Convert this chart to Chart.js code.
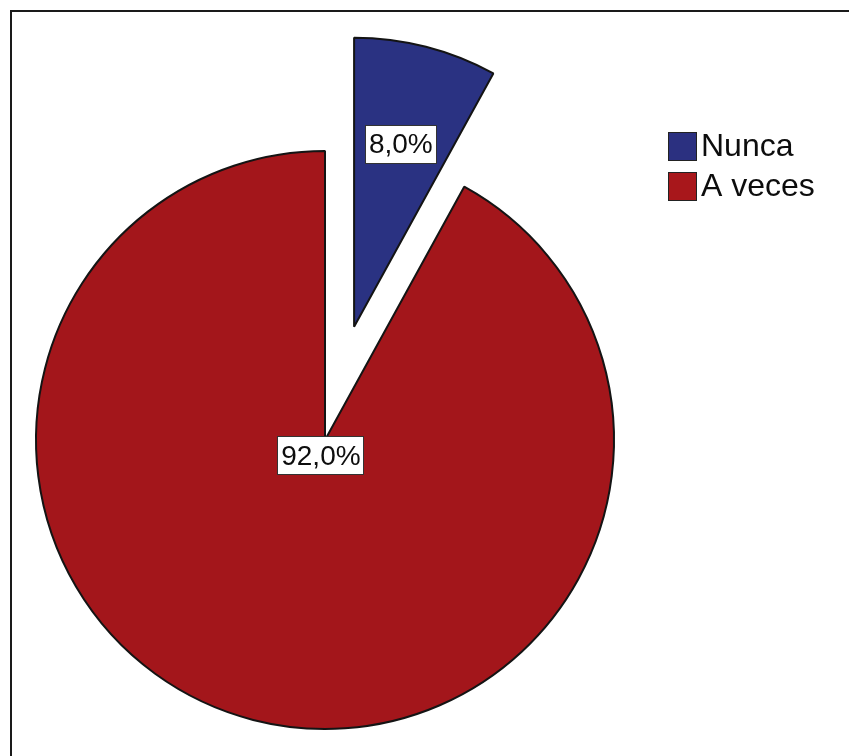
<!DOCTYPE html>
<html>
<head>
<meta charset="utf-8">
<script src="https://cdn.jsdelivr.net/npm/chart.js@4/dist/chart.umd.min.js"></script>
<style>
  html, body { margin: 0; padding: 0; background: #ffffff; }
  #wrap { position: relative; width: 849px; height: 756px; overflow: hidden; }
  #frame { position: absolute; left: 10px; top: 10px; right: -10px; bottom: -10px;
           border-top: 2px solid #1a1a1a; border-left: 2px solid #1a1a1a; pointer-events: none; }
  canvas { position: absolute; left: 0; top: 0; }
</style>
</head>
<body>
<div id="wrap">
  <canvas id="c" width="849" height="756"></canvas>
  <div id="frame"></div>
</div>
<script>
// ---- data ----
const categories = ['Nunca', 'A veces'];
const percentages = [8.0, 92.0];
const sliceColors = ['#2a3282', '#a3161b'];
const legendColors = ['#2b3080', '#a8171b'];

// ---- layout / style constants ----
const PIE_RADIUS = 289;
const EXPLODE = [117, 0];          // explode distance per slice (px)
const LABEL_POS = [0.65, 0.057];   // label distance from slice centre, fraction of radius
const FONT = '"Liberation Sans", Arial, sans-serif';

function fmtPct(v) {
  return v.toFixed(1).replace('.', ',') + '%';
}

const explodePlugin = {
  id: 'explodeSlices',
  afterDatasetUpdate(chart, args) {
    const meta = args.meta;
    meta.data.forEach((arc, i) => {
      const d = EXPLODE[i] || 0;
      if (!d) return;
      const mid = (arc.startAngle + arc.endAngle) / 2;
      arc.x = arc.x + Math.cos(mid) * d;
      arc.y = arc.y + Math.sin(mid) * d;
    });
  }
};

const labelPlugin = {
  id: 'pctLabels',
  afterDatasetsDraw(chart) {
    const ctx = chart.ctx;
    const meta = chart.getDatasetMeta(0);
    const data = chart.data.datasets[0].data;
    const total = data.reduce((a, b) => a + b, 0);
    ctx.save();
    ctx.font = '28px ' + FONT;
    ctx.textAlign = 'center';
    ctx.textBaseline = 'middle';
    meta.data.forEach((arc, i) => {
      const mid = (arc.startAngle + arc.endAngle) / 2;
      const r = arc.outerRadius * LABEL_POS[i];
      const cx = arc.x + Math.cos(mid) * r;
      const cy = arc.y + Math.sin(mid) * r;
      const txt = fmtPct(data[i] / total * 100);
      const w = ctx.measureText(txt).width + 8;
      const h = 39;
      ctx.fillStyle = '#ffffff';
      ctx.fillRect(Math.round(cx - w / 2), Math.round(cy - h / 2), Math.round(w), h);
      ctx.strokeStyle = '#333333';
      ctx.lineWidth = 1;
      ctx.strokeRect(Math.round(cx - w / 2) + 0.5, Math.round(cy - h / 2) + 0.5, Math.round(w) - 1, h - 1);
      ctx.fillStyle = '#0d0d0d';
      ctx.fillText(txt, cx, cy + 1);
    });
    ctx.restore();
  }
};

const legendPlugin = {
  id: 'sideLegend',
  afterDraw(chart) {
    const ctx = chart.ctx;
    const labels = chart.data.labels;
    ctx.save();
    ctx.font = '32px ' + FONT;
    ctx.textAlign = 'left';
    ctx.textBaseline = 'middle';
    labels.forEach((lab, i) => {
      const x = 668, y = 132 + i * 40, s = 29;
      ctx.fillStyle = legendColors[i];
      ctx.fillRect(x, y, s, s);
      ctx.strokeStyle = '#222222';
      ctx.lineWidth = 1;
      ctx.strokeRect(x + 0.5, y + 0.5, s - 1, s - 1);
      ctx.fillStyle = '#0d0d0d';
      ctx.fillText(lab, x + s + 4, y + s / 2 + 1);
    });
    ctx.restore();
  }
};

new Chart(document.getElementById('c'), {
  type: 'pie',
  data: {
    labels: categories,
    datasets: [{
      data: percentages,
      backgroundColor: sliceColors,
      borderColor: '#141414',
      borderWidth: 2,
      radius: PIE_RADIUS,
      clip: false
    }]
  },
  options: {
    responsive: false,
    animation: false,
    events: [],
    layout: { padding: { left: 0, right: 199, top: 124, bottom: 0 } },
    plugins: {
      legend: { display: false },
      tooltip: { enabled: false },
      title: { display: false }
    }
  },
  plugins: [explodePlugin, labelPlugin, legendPlugin]
});
</script>
</body>
</html>
